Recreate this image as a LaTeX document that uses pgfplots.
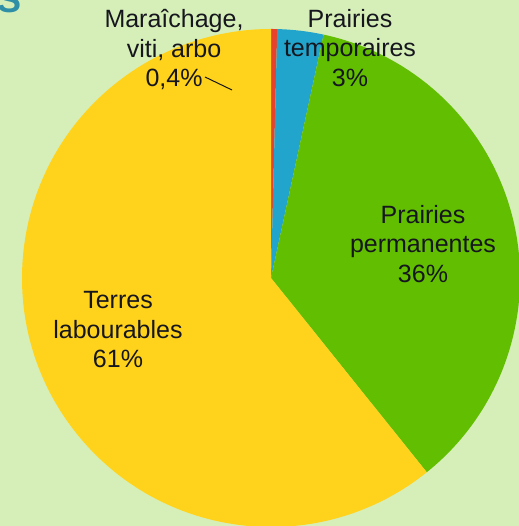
\documentclass[border=0pt]{standalone}
\usepackage{pgfplots}
\pgfplotsset{compat=1.18}
\usepackage{pgfplotstable}
\usepackage{fontspec}
\setmainfont{Liberation Sans}
\definecolor{bg}{RGB}{214,239,184}
\definecolor{cred}{RGB}{232,67,42}
\definecolor{cblue}{RGB}{33,165,204}
\definecolor{cgreen}{RGB}{98,190,0}
\definecolor{cyellow}{RGB}{255,210,28}
\definecolor{tealS}{RGB}{46,143,166}
\definecolor{txt}{RGB}{22,22,30}

\pgfplotstableread{
value color
0.4 cred
3 cblue
36 cgreen
61 cyellow
}\piedata

\begin{document}
\begin{tikzpicture}
\begin{axis}[x=0.5bp,y=0.5bp,xmin=0,xmax=519,ymin=0,ymax=526,hide axis,clip=true]
\fill[bg] (axis cs:0,0) rectangle (axis cs:519,526);
\pgfmathsetmacro{\cum}{0}
\pgfplotsinvokeforeach{0,...,3}{
  \pgfplotstablegetelem{#1}{value}\of\piedata
  \let\val=\pgfplotsretval
  \pgfplotstablegetelem{#1}{color}\of\piedata
  \let\col=\pgfplotsretval
  \pgfmathsetmacro{\sa}{90-\cum/100.4*360}
  \pgfmathsetmacro{\ea}{90-(\cum+\val)/100.4*360}
  \pgfmathsetmacro{\newcum}{\cum+\val}
  \global\let\cum=\newcum
  \edef\temp{\noexpand\fill[\col] (axis cs:271,248) -- ++(\sa:124.5bp) arc[start angle=\sa, end angle=\ea, radius=124.5bp] -- cycle;}
  \temp
}
\node[anchor=base west,text=tealS,font=\bfseries\fontsize{18bp}{18bp}\selectfont,inner sep=0pt] at (axis cs:-3,513) {S};
\begin{scope}[every node/.style={align=center,text=txt,inner sep=0pt,font=\fontsize{12.5bp}{14.75bp}\selectfont}]
\node at (axis cs:174,476) {Maraîchage,\\viti, arbo\\0,4\%};
\node at (axis cs:350,478) {Prairies\\temporaires\\3\%};
\node at (axis cs:423,282) {Prairies\\permanentes\\36\%};
\node at (axis cs:118,196) {Terres\\labourables\\61\%};
\end{scope}
\draw[txt,line width=0.5bp] (axis cs:205,449) -- (axis cs:232,436);
\end{axis}
\pgfresetboundingbox
\useasboundingbox (current axis.south west) rectangle (current axis.north east);
\end{tikzpicture}
\end{document}
